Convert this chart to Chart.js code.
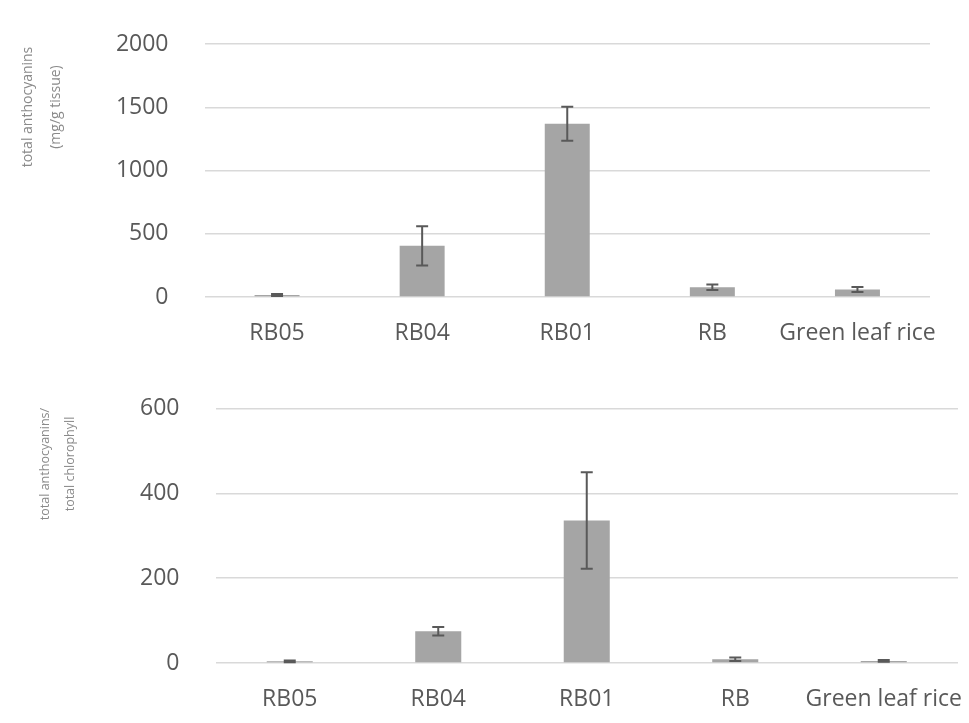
<!DOCTYPE html>
<html lang="en">
<head>
    <meta charset="UTF-8">
    <title>Anthocyanins</title>
    <script src="https://cdn.jsdelivr.net/npm/chart.js"></script>
    <style>
        body { margin: 0; background: #fff; }
        #wrap { position: relative; width: 969px; height: 723px; }
        .box { position: absolute; left: 0; width: 969px; }
        #top { top: 0; height: 365px; }
        #bottom { top: 365px; height: 358px; }
    </style>
</head>
<body>
    <div id="wrap">
        <div class="box" id="top"><canvas id="anthoChart"></canvas></div>
        <div class="box" id="bottom"><canvas id="ratioChart"></canvas></div>
    </div>
    <script>
        const varieties = ['RB05', 'RB04', 'RB01', 'RB', 'Green leaf rice'];

        const anthocyanins = [15, 405, 1370, 77, 60];
        const anthocyaninsErr = [8, 155, 134, 21, 20];
        const anthoTicks = [0, 500, 1000, 1500, 2000];

        const ratio = [4, 75, 336, 9, 5];
        const ratioErr = [2, 10, 114, 4, 2];
        const ratioTicks = [0, 200, 400, 600];

        const textColor = '#595959';
        const fontFamily = "'Open Sans', sans-serif";

        // error bars drawn on top of the bars
        const errorBars = {
            id: 'errorBars',
            afterDatasetsDraw(chart, args, opts) {
                const ctx = chart.ctx;
                const meta = chart.getDatasetMeta(0);
                const y = chart.scales.y;
                const vals = chart.data.datasets[0].data;
                ctx.save();
                ctx.strokeStyle = '#595959';
                ctx.lineWidth = 2;
                meta.data.forEach((bar, i) => {
                    const e = opts.errors[i];
                    const hi = y.getPixelForValue(vals[i] + e);
                    const lo = y.getPixelForValue(Math.max(vals[i] - e, 0));
                    ctx.beginPath();
                    ctx.moveTo(bar.x, hi); ctx.lineTo(bar.x, lo);
                    ctx.moveTo(bar.x - 6, hi); ctx.lineTo(bar.x + 6, hi);
                    ctx.moveTo(bar.x - 6, lo); ctx.lineTo(bar.x + 6, lo);
                    ctx.stroke();
                });
                ctx.restore();
            }
        };

        // rotated side title, placed like in the original figure
        const sideTitle = {
            id: 'sideTitle',
            afterDraw(chart, args, opts) {
                const ctx = chart.ctx;
                ctx.save();
                ctx.fillStyle = '#8a8a8a';
                ctx.font = opts.size + 'px ' + fontFamily;
                ctx.textAlign = 'center';
                ctx.textBaseline = 'middle';
                opts.lines.forEach((line, i) => {
                    ctx.save();
                    ctx.translate(opts.xs[i], opts.y);
                    ctx.rotate(-Math.PI / 2);
                    ctx.fillText(line, 0, 0);
                    ctx.restore();
                });
                ctx.restore();
            }
        };

        function makeChart(canvasId, values, errors, ticks, cfg) {
            const ctx = document.getElementById(canvasId).getContext('2d');
            return new Chart(ctx, {
                type: 'bar',
                data: {
                    labels: varieties,
                    datasets: [{
                        data: values,
                        backgroundColor: '#a5a5a5',
                        borderWidth: 0,
                        categoryPercentage: 1,
                        barPercentage: 0.31
                    }]
                },
                options: {
                    responsive: true,
                    maintainAspectRatio: false,
                    animation: false,
                    layout: { padding: { left: 0, right: cfg.right, top: cfg.top, bottom: 0 } },
                    plugins: {
                        legend: { display: false },
                        tooltip: { enabled: false },
                        errorBars: { errors: errors },
                        sideTitle: cfg.title
                    },
                    scales: {
                        x: {
                            grid: { display: false },
                            border: { display: false },
                            ticks: {
                                color: textColor, font: { size: 23, family: fontFamily },
                                padding: 15, maxRotation: 0, autoSkip: false
                            },
                            afterFit: s => {
                                s.height = cfg.xHeight;
                                s.paddingLeft = 0;
                                s.paddingRight = 0;
                            }
                        },
                        y: {
                            min: ticks[0],
                            max: ticks[ticks.length - 1],
                            afterBuildTicks: s => { s.ticks = ticks.map(v => ({ value: v })); },
                            grid: { color: '#d9d9d9', lineWidth: 1.5, drawTicks: false },
                            border: { display: false },
                            ticks: {
                                color: textColor, font: { size: 23, family: fontFamily }, padding: 36,
                                callback: v => String(v)
                            },
                            afterFit: s => {
                                s.width = cfg.yWidth;
                                s.paddingTop = 0;
                                s.paddingBottom = 0;
                            }
                        }
                    }
                },
                plugins: [errorBars, sideTitle]
            });
        }

        makeChart('anthoChart', anthocyanins, anthocyaninsErr, anthoTicks, {
            right: 39, top: 44, xHeight: 68, yWidth: 204.5,
            title: { lines: ['total anthocyanins', '(mg/g tissue)'], xs: [28, 56], y: 107, size: 14 }
        });

        makeChart('ratioChart', ratio, ratioErr, ratioTicks, {
            right: 11, top: 43.5, xHeight: 60, yWidth: 215.5,
            title: { lines: ['total anthocyanins/', 'total chlorophyll'], xs: [45, 70], y: 99, size: 12.5 }
        });
    </script>
</body>
</html>
